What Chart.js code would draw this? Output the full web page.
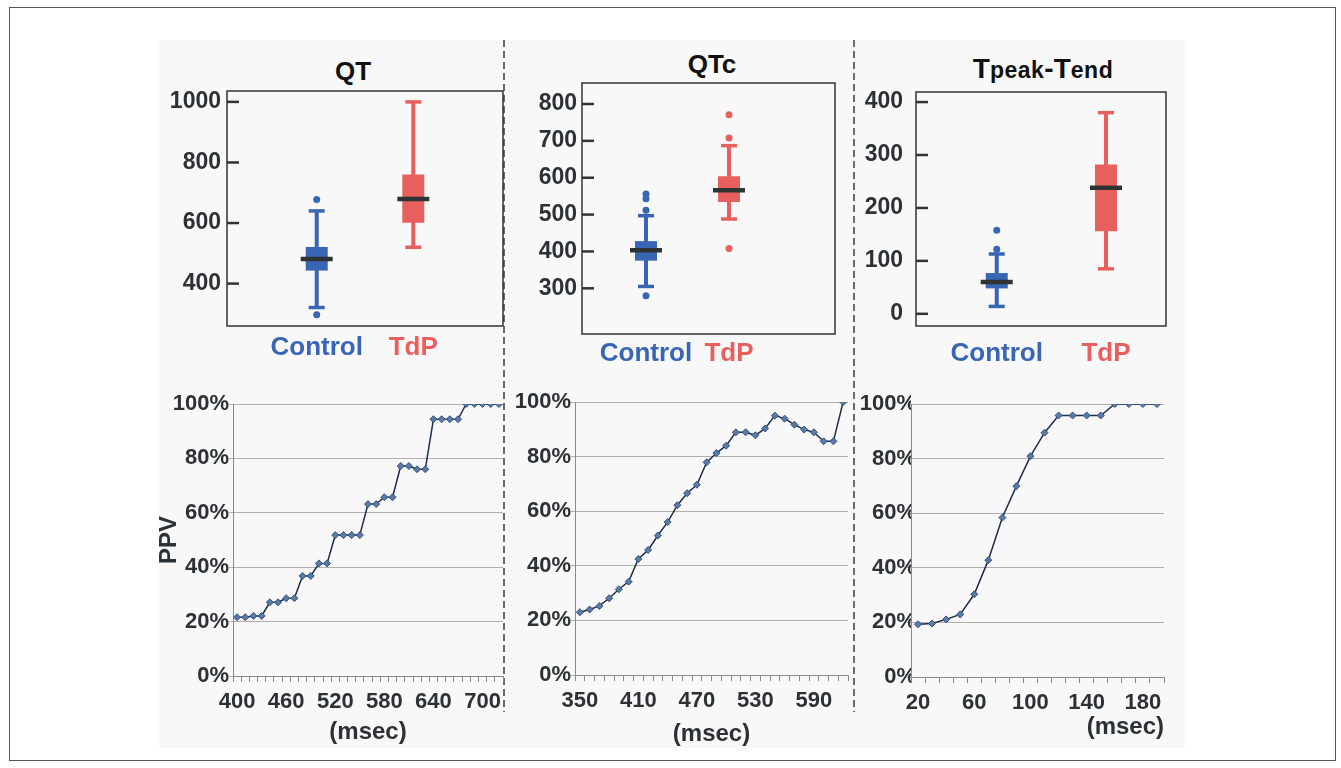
<!DOCTYPE html>
<html>
<head>
<meta charset="utf-8">
<script src="https://cdn.jsdelivr.net/npm/chart.js@4.4.1/dist/chart.umd.min.js"></script>
<style>
  html, body { margin: 0; padding: 0; background: #fff; }
  body { width: 1341px; height: 768px; position: relative; overflow: hidden; font-family: "Liberation Sans", Arial, sans-serif; }
  #frame { position: absolute; left: 9px; top: 7px; width: 1327px; height: 754px; border: 1px solid #555; box-sizing: border-box; }
  #figure { position: absolute; left: 159px; top: 40px; width: 1026px; height: 708px; background: #f8f8f8; }
  .sep { position: absolute; top: 40px; width: 2px; height: 672px; background: repeating-linear-gradient(to bottom, #6a6a6a 0 7px, transparent 7px 11px); }
  .title { position: absolute; width: 240px; text-align: center; font-weight: bold; font-size: 26px; line-height: 30px; color: #111; }
  .title.big { font-size: 28px; }
  .title small { font-size: 23px; letter-spacing: 0.5px; }
  canvas { position: absolute; }
</style>
</head>
<body>
<div id="frame"></div>
<div id="figure"></div>
<div class="sep" style="left:503px"></div>
<div class="sep" style="left:853px"></div>

<div class="title" style="left:233px;top:56px">QT</div>
<div class="title" style="left:592px;top:49px">QTc</div>
<div class="title big" style="left:923px;top:54px">T<small>peak</small>-T<small>end</small></div>

<canvas id="qtBox" width="377" height="312" style="left:150px;top:63px"></canvas>
<canvas id="qtcBox" width="354" height="325" style="left:505px;top:55px"></canvas>
<canvas id="tpteBox" width="332" height="310" style="left:858px;top:64px"></canvas>

<canvas id="qtLine" width="360" height="362" style="left:150px;top:388px"></canvas>
<canvas id="qtcLine" width="350" height="364" style="left:505px;top:386px"></canvas>
<canvas id="tpteLine" width="334" height="362" style="left:856px;top:388px"></canvas>

<script>
// box plot groups
const groups = ['Control', 'TdP'];
const groupColors = ['#3866b4', '#e8605d'];

// QT (msec)
const qtTicks = [400, 600, 800, 1000];
const qtTickLabels = [400, 600, 800, 1000];
const qtMin = [321, 520];
const qtQ1 = [443, 601];
const qtMedian = [481, 679];
const qtQ3 = [521, 760];
const qtMax = [640, 1000];
const qtOutliers = [[678, 297], []];

// QTc (msec)
const qtcTicks = [300, 400, 500, 600, 700, 800];
const qtcTickLabels = [300, 400, 500, 600, 700, 800];
const qtcMin = [305, 488];
const qtcQ1 = [375, 534];
const qtcMedian = [403, 566];
const qtcQ3 = [428, 604];
const qtcMax = [497, 687];
const qtcOutliers = [[556, 543, 512, 280], [771, 708, 408]];

// Tpeak-Tend (msec)
const tpteTicks = [0, 50, 100, 150, 200, 250, 300, 350, 400];
const tpteTickLabels = [0, 100, 200, 300, 400];
const tpteMin = [14, 85];
const tpteQ1 = [48, 156];
const tpteMedian = [60, 238];
const tpteQ3 = [77, 282];
const tpteMax = [113, 380];
const tpteOutliers = [[158, 122], []];

// PPV curves
const qtMsec = [400, 410, 420, 430, 440, 450, 460, 470, 480, 490, 500, 510, 520, 530, 540, 550,
  560, 570, 580, 590, 600, 610, 620, 630, 640, 650, 660, 670, 680, 690, 700, 710, 720];
const qtPpv = [21.6, 21.6, 22.1, 22.1, 27.1, 27.1, 28.6, 28.6, 36.8, 36.8, 41.4, 41.4, 51.8, 51.8, 51.8, 51.8,
  63.2, 63.2, 65.7, 65.7, 77.2, 77.2, 76.0, 76.0, 94.4, 94.4, 94.4, 94.4, 100, 100, 100, 100, 100];
const qtMsecLabels = [400, 460, 520, 580, 640, 700];

const qtcMsec = [350, 360, 370, 380, 390, 400, 410, 420, 430, 440, 450, 460, 470, 480,
  490, 500, 510, 520, 530, 540, 550, 560, 570, 580, 590, 600, 610, 620];
const qtcPpv = [23.0, 24.0, 25.3, 28.1, 31.4, 34.2, 42.5, 45.8, 51.1, 56.0, 62.2, 66.6, 69.7, 77.9,
  81.3, 84.0, 88.9, 88.9, 87.8, 90.3, 95.0, 93.9, 91.7, 89.9, 88.9, 85.6, 85.6, 100];
const qtcMsecLabels = [350, 410, 470, 530, 590];

const tpteMsec = [20, 30, 40, 50, 60, 70, 80, 90, 100, 110, 120, 130, 140, 150, 160, 170, 180, 190];
const tptePpv = [19.3, 19.6, 21.1, 22.9, 30.3, 42.8, 58.4, 69.9, 80.9, 89.5, 95.8, 95.8, 95.8, 95.8, 100, 100, 100, 100];
const tpteMsecLabels = [20, 60, 100, 140, 180];

Chart.defaults.font.family = '"Liberation Sans", Arial, sans-serif';
Chart.defaults.color = '#2b3134';

// box outline and inward y ticks
const boxFrame = {
  id: 'boxFrame',
  afterDatasetsDraw(chart) {
    const { ctx, chartArea: a, scales: { y } } = chart;
    ctx.save();
    ctx.strokeStyle = '#333';
    ctx.lineWidth = 1.5;
    ctx.strokeRect(a.left, a.top, a.right - a.left, a.bottom - a.top);
    ctx.lineWidth = 2.5;
    y.ticks.forEach(t => {
      const py = y.getPixelForValue(t.value);
      ctx.beginPath();
      ctx.moveTo(a.left, py);
      ctx.lineTo(a.left + 12, py);
      ctx.stroke();
    });
    ctx.restore();
  }
};

function boxDatasets(lo, q1, med, q3, hi, outliers) {
  const pts = (vals) => groups.map((g, i) => ({ x: i + 1, y: vals[i] }));
  const byGroup = (ctx) => groupColors[ctx.raw ? ctx.raw.x - 1 : 0];
  return [
    { type: 'bar', data: groups.map((g, i) => ({ x: i + 1, y: [lo[i], hi[i]] })),
      backgroundColor: groupColors, grouped: false, maxBarThickness: 4, order: 4 },
    { type: 'bar', data: groups.map((g, i) => ({ x: i + 1, y: [q1[i], q3[i]] })),
      backgroundColor: groupColors, grouped: false, maxBarThickness: 22, order: 3 },
    { type: 'scatter', data: pts(lo).concat(pts(hi)), pointStyle: 'line', pointRadius: 8,
      pointBorderWidth: 3.5, pointBorderColor: byGroup, order: 2 },
    { type: 'scatter', data: pts(med), pointStyle: 'line', pointRadius: 16,
      pointBorderWidth: 4.5, pointBorderColor: '#2e3434', order: 1 },
    { type: 'scatter', data: outliers.flatMap((list, i) => list.map(v => ({ x: i + 1, y: v }))),
      pointStyle: 'circle', pointRadius: 3.5, pointBorderWidth: 0, pointBackgroundColor: byGroup, order: 0 }
  ];
}

function boxChart(id, datasets, ticks, tickLabels, c) {
  new Chart(document.getElementById(id), {
    type: 'bar',
    data: { datasets: datasets },
    plugins: [boxFrame],
    options: {
      responsive: false,
      animation: false,
      events: [],
      layout: { padding: { top: 28, right: 24, left: 0, bottom: 0 } },
      plugins: { legend: { display: false }, tooltip: { enabled: false } },
      scales: {
        x: {
          type: 'linear', min: c.xMin, max: c.xMax, offset: false,
          grid: { display: false, drawTicks: false }, border: { display: false },
          afterBuildTicks: s => { s.ticks = groups.map((g, i) => ({ value: i + 1 })); },
          afterFit: s => { s.height = c.xH; },
          ticks: {
            padding: c.xPad, autoSkip: false, maxRotation: 0,
            font: { size: 26, weight: 'bold' },
            color: ctx => groupColors[ctx.index],
            callback: v => groups[v - 1] || ''
          }
        },
        y: {
          min: c.yMin, max: c.yMax,
          grid: { display: false, drawTicks: false }, border: { display: false },
          afterBuildTicks: s => { s.ticks = ticks.map(v => ({ value: v })); },
          afterFit: s => { s.width = c.yW; },
          ticks: {
            padding: c.yPad, color: '#2b3134',
            font: { size: 23, weight: 'bold' },
            callback: v => tickLabels.includes(v) ? String(v) : ''
          }
        }
      }
    }
  });
}

function lineChart(id, msec, ppv, msecLabels, c) {
  new Chart(document.getElementById(id), {
    type: 'line',
    data: {
      labels: msec,
      datasets: [{
        data: ppv,
        borderColor: '#1d2c47', borderWidth: 1.5, tension: 0,
        pointStyle: 'rectRot', pointRadius: 3.5,
        pointBackgroundColor: '#5a7aa8', pointBorderColor: '#34507a', pointBorderWidth: 1
      }]
    },
    options: {
      responsive: false,
      animation: false,
      events: [],
      layout: { padding: { top: 16, right: c.padRight, left: 0, bottom: 0 } },
      plugins: { legend: { display: false }, tooltip: { enabled: false } },
      scales: {
        x: {
          type: 'category', offset: true,
          grid: { offset: true, drawOnChartArea: false, drawTicks: true, tickLength: 6, color: '#8a8a8a' },
          border: { color: '#8a8a8a', width: 1 },
          afterFit: s => { s.height = c.xH; },
          ticks: {
            autoSkip: false, maxRotation: 0, padding: 7,
            font: { size: 22, weight: 'bold' },
            callback: (v, i) => msecLabels.includes(msec[i]) ? String(msec[i]) : ''
          },
          title: {
            display: true, text: '(msec)', align: c.titleAlign,
            font: { size: 24, weight: 'bold' }, padding: { top: 0, bottom: c.titleBottom }
          }
        },
        y: {
          min: 0, max: 100,
          grid: { color: '#b0b0b0', lineWidth: 1, drawTicks: true, tickLength: 4 },
          border: { color: '#8a8a8a', width: 1 },
          afterFit: s => { s.width = c.yW; },
          ticks: {
            stepSize: 10, padding: c.yPad,
            font: { size: 22, weight: 'bold' },
            callback: v => v % 20 === 0 ? v + '%' : ''
          },
          title: {
            display: !!c.yTitle, text: c.yTitle || '',
            font: { size: 24, weight: 'bold' }, padding: { top: 5, bottom: 0 }
          }
        }
      }
    }
  });
}

boxChart('qtBox', boxDatasets(qtMin, qtQ1, qtMedian, qtQ3, qtMax, qtOutliers), qtTicks, qtTickLabels,
  { xMin: 0.071, xMax: 2.929, yMin: 260, yMax: 1036, yW: 77, xH: 49, xPad: 6, yPad: 6 });
boxChart('qtcBox', boxDatasets(qtcMin, qtcQ1, qtcMedian, qtcQ3, qtcMax, qtcOutliers), qtcTicks, qtcTickLabels,
  { xMin: 0.229, xMax: 3.277, yMin: 176, yMax: 857, yW: 77, xH: 46, xPad: 4, yPad: 5 });
boxChart('tpteBox', boxDatasets(tpteMin, tpteQ1, tpteMedian, tpteQ3, tpteMax, tpteOutliers), tpteTicks, tpteTickLabels,
  { xMin: 0.261, xMax: 2.549, yMin: -23, yMax: 419, yW: 58, xH: 48, xPad: 12, yPad: 13 });

lineChart('qtLine', qtMsec, qtPpv, qtMsecLabels,
  { yW: 83, padRight: 7, xH: 74, yPad: 0, titleAlign: 'center', titleBottom: 3, yTitle: 'PPV' });
lineChart('qtcLine', qtcMsec, qtcPpv, qtcMsecLabels,
  { yW: 70, padRight: 7, xH: 75, yPad: 0, titleAlign: 'center', titleBottom: 1 });
lineChart('tpteLine', tpteMsec, tptePpv, tpteMsecLabels,
  { yW: 55, padRight: 26, xH: 73, yPad: -9, titleAlign: 'end', titleBottom: 8 });
</script>
</body>
</html>
